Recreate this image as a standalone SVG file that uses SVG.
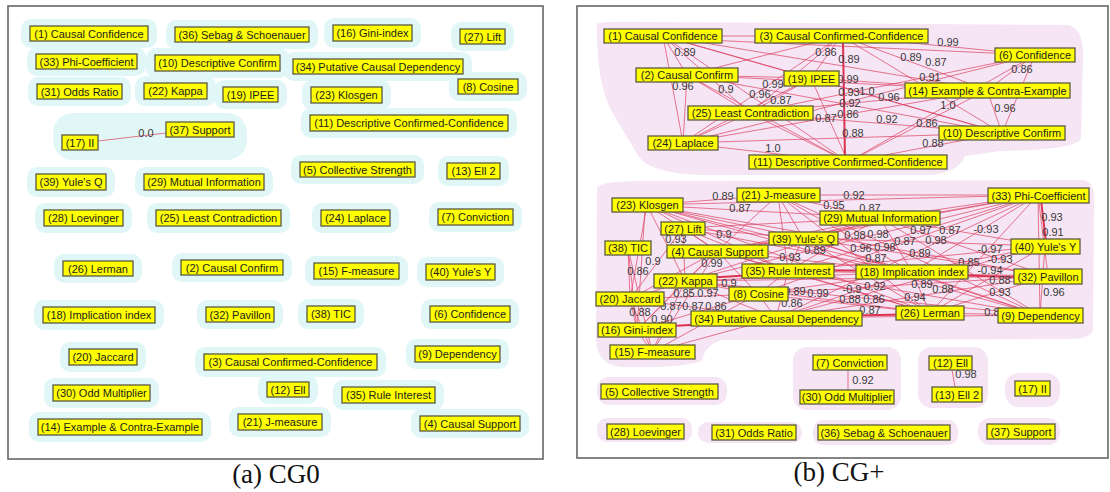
<svg xmlns="http://www.w3.org/2000/svg" width="1110" height="492" viewBox="0 0 1110 492">
<style>
.frame{fill:#fff;stroke:#666;stroke-width:1.6}
.halo{fill:#e1f6f6}
.blob{fill:#f5e5f5}
.nb{fill:#ffff00;stroke:#5a5a40;stroke-width:1.3}
.nt{font-family:"Liberation Sans",Arial,sans-serif;font-size:11px;fill:#1c1c1c;text-anchor:middle}
.e line{stroke:#dd3a5a;stroke-width:0.85;stroke-opacity:0.8}
.e line.th{stroke:#d8203f;stroke-width:2;stroke-opacity:0.9}
.lb{font-family:"Liberation Sans",Arial,sans-serif;font-size:11px;fill:#3a3a3a;text-anchor:middle}
.cap{font-family:"Liberation Serif","Times New Roman",serif;font-size:27px;fill:#111;text-anchor:middle}
</style>
<rect width="1110" height="492" fill="#fff"/>
<!-- Panel (a) -->
<rect class="frame" x="8" y="6" width="535" height="453"/>
<g id="a-halos">
<rect class="halo" x="21" y="19" width="136" height="29" rx="10"/>
<rect class="halo" x="166" y="20" width="152" height="29" rx="10"/>
<rect class="halo" x="324" y="18" width="97" height="30" rx="10"/>
<rect class="halo" x="451" y="22" width="63" height="29" rx="10"/>
<rect class="halo" x="27" y="47" width="119" height="29" rx="10"/>
<rect class="halo" x="146" y="48" width="143" height="30" rx="10"/>
<rect class="halo" x="284" y="52" width="188" height="29" rx="10"/>
<rect class="halo" x="28" y="77" width="103" height="29" rx="10"/>
<rect class="halo" x="135" y="76" width="81" height="30" rx="10"/>
<rect class="halo" x="214" y="80" width="73" height="29" rx="10"/>
<rect class="halo" x="302" y="80" width="89" height="30" rx="10"/>
<rect class="halo" x="449" y="72" width="78" height="29" rx="10"/>
<rect class="halo" x="301" y="108" width="216" height="30" rx="10"/>
<rect class="halo" x="53" y="113" width="194" height="47" rx="20"/>
<rect class="halo" x="27" y="167" width="88" height="30" rx="10"/>
<rect class="halo" x="135" y="167" width="138" height="30" rx="10"/>
<rect class="halo" x="291" y="155" width="133" height="29" rx="10"/>
<rect class="halo" x="438" y="156" width="71" height="30" rx="10"/>
<rect class="halo" x="35" y="203" width="97" height="30" rx="10"/>
<rect class="halo" x="147" y="203" width="143" height="30" rx="10"/>
<rect class="halo" x="312" y="203" width="87" height="30" rx="10"/>
<rect class="halo" x="429" y="202" width="93" height="30" rx="10"/>
<rect class="halo" x="54" y="254" width="88" height="29" rx="10"/>
<rect class="halo" x="172" y="253" width="120" height="29" rx="10"/>
<rect class="halo" x="305" y="256" width="103" height="30" rx="10"/>
<rect class="halo" x="417" y="257" width="87" height="30" rx="10"/>
<rect class="halo" x="34" y="300" width="130" height="30" rx="10"/>
<rect class="halo" x="197" y="300" width="86" height="29" rx="10"/>
<rect class="halo" x="298" y="299" width="66" height="30" rx="10"/>
<rect class="halo" x="421" y="299" width="98" height="30" rx="10"/>
<rect class="halo" x="60" y="342" width="86" height="30" rx="10"/>
<rect class="halo" x="195" y="347" width="191" height="30" rx="10"/>
<rect class="halo" x="406" y="339" width="103" height="30" rx="10"/>
<rect class="halo" x="44" y="378" width="115" height="30" rx="10"/>
<rect class="halo" x="258" y="375" width="60" height="29" rx="10"/>
<rect class="halo" x="333" y="380" width="111" height="30" rx="10"/>
<rect class="halo" x="29" y="412" width="182" height="30" rx="10"/>
<rect class="halo" x="229" y="407" width="102" height="30" rx="10"/>
<rect class="halo" x="411" y="409" width="118" height="29" rx="10"/>
</g>
<g id="a-connectors" class="e">
<line x1="98" y1="141" x2="166" y2="133"/>
<text class="lb" x="146" y="137">0.0</text>
</g>
<g id="a-n1"><rect class="nb" x="30" y="26" width="118" height="15"/><text class="nt" x="89" y="37.5">(1) Causal Confidence</text></g>
<g id="a-n36"><rect class="nb" x="175" y="27" width="134" height="15"/><text class="nt" x="242" y="38.5">(36) Sebag &amp; Schoenauer</text></g>
<g id="a-n16"><rect class="nb" x="333" y="25" width="79" height="16"/><text class="nt" x="372.5" y="37">(16) Gini-index</text></g>
<g id="a-n27"><rect class="nb" x="460" y="29" width="45" height="15"/><text class="nt" x="482.5" y="40.5">(27) Lift</text></g>
<g id="a-n33"><rect class="nb" x="36" y="54" width="101" height="15"/><text class="nt" x="86.5" y="65.5">(33) Phi-Coefficient</text></g>
<g id="a-n10"><rect class="nb" x="155" y="55" width="125" height="16"/><text class="nt" x="217.5" y="67">(10) Descriptive Confirm</text></g>
<g id="a-n34"><rect class="nb" x="293" y="59" width="170" height="15"/><text class="nt" x="378" y="70.5">(34) Putative Causal Dependency</text></g>
<g id="a-n31"><rect class="nb" x="37" y="84" width="85" height="15"/><text class="nt" x="79.5" y="95.5">(31) Odds Ratio</text></g>
<g id="a-n22"><rect class="nb" x="144" y="83" width="63" height="16"/><text class="nt" x="175.5" y="95">(22) Kappa</text></g>
<g id="a-n19"><rect class="nb" x="223" y="87" width="55" height="15"/><text class="nt" x="250.5" y="98.5">(19) IPEE</text></g>
<g id="a-n23"><rect class="nb" x="311" y="87" width="71" height="16"/><text class="nt" x="346.5" y="99">(23) Klosgen</text></g>
<g id="a-n8"><rect class="nb" x="458" y="79" width="60" height="15"/><text class="nt" x="488" y="90.5">(8) Cosine</text></g>
<g id="a-n11"><rect class="nb" x="310" y="115" width="198" height="16"/><text class="nt" x="409" y="127">(11) Descriptive Confirmed-Confidence</text></g>
<g id="a-n37"><rect class="nb" x="166" y="122" width="68" height="15"/><text class="nt" x="200" y="133.5">(37) Support</text></g>
<g id="a-n17"><rect class="nb" x="62" y="135" width="36" height="15"/><text class="nt" x="80" y="146.5">(17) II</text></g>
<g id="a-n39"><rect class="nb" x="36" y="174" width="70" height="16"/><text class="nt" x="71" y="186">(39) Yule's Q</text></g>
<g id="a-n29"><rect class="nb" x="144" y="174" width="120" height="16"/><text class="nt" x="204" y="186">(29) Mutual Information</text></g>
<g id="a-n5"><rect class="nb" x="300" y="162" width="115" height="15"/><text class="nt" x="357.5" y="173.5">(5) Collective Strength</text></g>
<g id="a-n13"><rect class="nb" x="447" y="163" width="53" height="16"/><text class="nt" x="473.5" y="175">(13) Ell 2</text></g>
<g id="a-n28"><rect class="nb" x="44" y="210" width="79" height="16"/><text class="nt" x="83.5" y="222">(28) Loevinger</text></g>
<g id="a-n25"><rect class="nb" x="156" y="210" width="125" height="16"/><text class="nt" x="218.5" y="222">(25) Least Contradiction</text></g>
<g id="a-n24"><rect class="nb" x="321" y="210" width="69" height="16"/><text class="nt" x="355.5" y="222">(24) Laplace</text></g>
<g id="a-n7"><rect class="nb" x="438" y="209" width="75" height="16"/><text class="nt" x="475.5" y="221">(7) Conviction</text></g>
<g id="a-n26"><rect class="nb" x="63" y="261" width="70" height="15"/><text class="nt" x="98" y="272.5">(26) Lerman</text></g>
<g id="a-n2"><rect class="nb" x="181" y="260" width="102" height="15"/><text class="nt" x="232" y="271.5">(2) Causal Confirm</text></g>
<g id="a-n15"><rect class="nb" x="314" y="263" width="85" height="16"/><text class="nt" x="356.5" y="275">(15) F-measure</text></g>
<g id="a-n40"><rect class="nb" x="426" y="264" width="69" height="16"/><text class="nt" x="460.5" y="276">(40) Yule's Y</text></g>
<g id="a-n18"><rect class="nb" x="43" y="307" width="112" height="16"/><text class="nt" x="99" y="319">(18) Implication index</text></g>
<g id="a-n32"><rect class="nb" x="206" y="307" width="68" height="15"/><text class="nt" x="240" y="318.5">(32) Pavillon</text></g>
<g id="a-n38"><rect class="nb" x="307" y="306" width="48" height="16"/><text class="nt" x="331" y="318">(38) TIC</text></g>
<g id="a-n6"><rect class="nb" x="430" y="306" width="80" height="16"/><text class="nt" x="470" y="318">(6) Confidence</text></g>
<g id="a-n20"><rect class="nb" x="69" y="349" width="68" height="16"/><text class="nt" x="103" y="361">(20) Jaccard</text></g>
<g id="a-n3"><rect class="nb" x="204" y="354" width="173" height="16"/><text class="nt" x="290.5" y="366">(3) Causal Confirmed-Confidence</text></g>
<g id="a-n9"><rect class="nb" x="415" y="346" width="85" height="16"/><text class="nt" x="457.5" y="358">(9) Dependency</text></g>
<g id="a-n30"><rect class="nb" x="53" y="385" width="97" height="16"/><text class="nt" x="101.5" y="397">(30) Odd Multiplier</text></g>
<g id="a-n12"><rect class="nb" x="267" y="382" width="42" height="15"/><text class="nt" x="288" y="393.5">(12) Ell</text></g>
<g id="a-n35"><rect class="nb" x="342" y="387" width="93" height="16"/><text class="nt" x="388.5" y="399">(35) Rule Interest</text></g>
<g id="a-n14"><rect class="nb" x="38" y="419" width="164" height="16"/><text class="nt" x="120" y="431">(14) Example &amp; Contra-Example</text></g>
<g id="a-n21"><rect class="nb" x="238" y="414" width="84" height="16"/><text class="nt" x="280" y="426">(21) J-measure</text></g>
<g id="a-n4"><rect class="nb" x="420" y="416" width="100" height="15"/><text class="nt" x="470" y="427.5">(4) Causal Support</text></g>
<text class="cap" x="276" y="483">(a) CG0</text>

<!-- Panel (b) -->
<rect class="frame" x="577" y="6" width="531" height="452"/>
<g id="b-blobs">
<path class="blob" d="M597,24 Q600,21 640,22 L1068,25 Q1083,28 1083,55 L1081,138 Q1078,150 1000,151 L965,156 Q958,173 930,175 L705,175 Q645,174 636,152 L612,112 Q596,82 597,24 Z"/>
<path class="blob" d="M597,188 Q600,181 640,181 L1084,180 Q1094,182 1094,200 L1093,330 Q1091,339 1070,339 L722,340 Q706,344 702,360 Q692,368 622,367 Q598,365 596,342 Z"/>
<rect class="blob" x="793" y="347" width="108" height="63" rx="14"/>
<rect class="blob" x="918" y="347" width="70" height="61" rx="14"/>
<rect class="blob" x="1005" y="373" width="55" height="34" rx="14"/>
<rect class="blob" x="597" y="377" width="130" height="28" rx="12"/>
<rect class="blob" x="597" y="418" width="95" height="24" rx="10"/>
<rect class="blob" x="698" y="422" width="104" height="21" rx="10"/>
<rect class="blob" x="813" y="420" width="145" height="25" rx="10"/>
<rect class="blob" x="978" y="418" width="82" height="27" rx="12"/>
</g>
<g id="b-connectors" class="e">
<!-- top cluster -->
<line x1="663" y1="36" x2="841" y2="36"/>
<line x1="663" y1="38" x2="1035" y2="55"/>
<line x1="663" y1="36" x2="811" y2="78"/>
<line x1="663" y1="36" x2="987" y2="90"/>
<line x1="663" y1="36" x2="687" y2="75"/>
<line x1="663" y1="36" x2="683" y2="143"/>
<line x1="663" y1="36" x2="750" y2="113"/>
<line x1="663" y1="36" x2="848" y2="162"/>
<line x1="663" y1="36" x2="1002" y2="133"/>
<line x1="841" y1="36" x2="1035" y2="55"/>
<line x1="841" y1="36" x2="987" y2="90"/>
<line x1="841" y1="36" x2="1002" y2="133"/>
<line x1="841" y1="36" x2="811" y2="78"/>
<line x1="841" y1="36" x2="750" y2="113"/>
<line class="th" x1="843" y1="42" x2="845" y2="158"/>
<line x1="841" y1="36" x2="683" y2="143"/>
<line x1="841" y1="36" x2="687" y2="75"/>
<line x1="687" y1="75" x2="811" y2="78"/>
<line x1="687" y1="75" x2="750" y2="113"/>
<line x1="687" y1="75" x2="987" y2="90"/>
<line x1="687" y1="75" x2="848" y2="162"/>
<line x1="687" y1="75" x2="683" y2="143"/>
<line x1="687" y1="75" x2="1002" y2="133"/>
<line x1="811" y1="78" x2="750" y2="113"/>
<line x1="811" y1="78" x2="848" y2="162"/>
<line x1="811" y1="78" x2="987" y2="90"/>
<line x1="811" y1="78" x2="683" y2="143"/>
<line x1="811" y1="78" x2="1002" y2="133"/>
<line x1="750" y1="113" x2="987" y2="90"/>
<line x1="750" y1="113" x2="1035" y2="55"/>
<line x1="750" y1="113" x2="1002" y2="133"/>
<line x1="750" y1="113" x2="683" y2="143"/>
<line x1="750" y1="113" x2="848" y2="162"/>
<line x1="683" y1="143" x2="848" y2="162"/>
<line x1="683" y1="143" x2="987" y2="90"/>
<line x1="683" y1="143" x2="1035" y2="55"/>
<line x1="683" y1="143" x2="1002" y2="133"/>
<line x1="848" y1="162" x2="1035" y2="55"/>
<line x1="848" y1="162" x2="987" y2="90"/>
<line x1="848" y1="162" x2="1002" y2="133"/>
<line x1="1035" y1="55" x2="987" y2="90"/>
<line x1="1035" y1="55" x2="1002" y2="133"/>
<line x1="987" y1="90" x2="1002" y2="133"/>
<!-- lower cluster -->
<line x1="647" y1="205" x2="778" y2="195"/>
<line x1="647" y1="205" x2="880" y2="218"/>
<line x1="647" y1="205" x2="1038" y2="195"/>
<line x1="647" y1="205" x2="803" y2="238"/>
<line x1="647" y1="205" x2="912" y2="272"/>
<line x1="647" y1="205" x2="788" y2="271"/>
<line x1="647" y1="205" x2="717" y2="251"/>
<line x1="645" y1="210" x2="637" y2="330"/>
<line x1="647" y1="205" x2="685" y2="281"/>
<line x1="647" y1="205" x2="930" y2="313"/>
<line x1="647" y1="205" x2="1048" y2="276"/>
<line x1="647" y1="205" x2="1040" y2="315"/>
<line x1="647" y1="205" x2="630" y2="299"/>
<line x1="778" y1="195" x2="880" y2="218"/>
<line x1="778" y1="195" x2="1038" y2="195"/>
<line x1="778" y1="195" x2="912" y2="272"/>
<line x1="778" y1="195" x2="930" y2="313"/>
<line x1="778" y1="195" x2="717" y2="251"/>
<line x1="778" y1="195" x2="803" y2="238"/>
<line x1="778" y1="195" x2="1040" y2="315"/>
<line x1="778" y1="195" x2="788" y2="271"/>
<line x1="1038" y1="195" x2="880" y2="218"/>
<line class="th" x1="1041" y1="200" x2="1046" y2="242"/>
<line x1="1038" y1="195" x2="912" y2="272"/>
<line x1="1038" y1="195" x2="803" y2="238"/>
<line x1="1038" y1="195" x2="788" y2="271"/>
<line x1="1038" y1="195" x2="930" y2="313"/>
<line x1="1038" y1="195" x2="1048" y2="276"/>
<line x1="1038" y1="195" x2="1040" y2="315"/>
<line x1="1038" y1="195" x2="717" y2="251"/>
<line x1="1038" y1="195" x2="776" y2="318"/>
<line x1="1038" y1="195" x2="758" y2="294"/>
<line x1="1038" y1="195" x2="685" y2="281"/>
<line x1="1045" y1="246" x2="1040" y2="315"/>
<line x1="1045" y1="246" x2="912" y2="272"/>
<line x1="1045" y1="246" x2="930" y2="313"/>
<line x1="1045" y1="246" x2="788" y2="271"/>
<line x1="1045" y1="246" x2="803" y2="238"/>
<line x1="1045" y1="246" x2="776" y2="318"/>
<line x1="1045" y1="246" x2="880" y2="218"/>
<line class="th" x1="912" y1="274" x2="1048" y2="278"/>
<line x1="1048" y1="276" x2="930" y2="313"/>
<line x1="1048" y1="276" x2="776" y2="318"/>
<line x1="1048" y1="276" x2="788" y2="271"/>
<line x1="1048" y1="276" x2="803" y2="238"/>
<line x1="1048" y1="276" x2="685" y2="281"/>
<line x1="1048" y1="276" x2="880" y2="218"/>
<line x1="1048" y1="276" x2="758" y2="294"/>
<line x1="1040" y1="315" x2="930" y2="313"/>
<line x1="1040" y1="315" x2="912" y2="272"/>
<line x1="1040" y1="315" x2="776" y2="318"/>
<line x1="1040" y1="315" x2="880" y2="218"/>
<line x1="1040" y1="315" x2="803" y2="238"/>
<line x1="1040" y1="315" x2="788" y2="271"/>
<line x1="1040" y1="315" x2="685" y2="281"/>
<line class="th" x1="788" y1="270" x2="912" y2="271"/>
<line x1="912" y1="272" x2="880" y2="218"/>
<line x1="912" y1="272" x2="803" y2="238"/>
<line x1="912" y1="272" x2="930" y2="313"/>
<line x1="912" y1="272" x2="776" y2="318"/>
<line x1="912" y1="272" x2="758" y2="294"/>
<line x1="912" y1="272" x2="717" y2="251"/>
<line x1="912" y1="272" x2="685" y2="281"/>
<line x1="912" y1="272" x2="683" y2="228"/>
<line class="th" x1="776" y1="317" x2="930" y2="314"/>
<line x1="930" y1="313" x2="788" y2="271"/>
<line x1="930" y1="313" x2="758" y2="294"/>
<line x1="930" y1="313" x2="803" y2="238"/>
<line x1="930" y1="313" x2="685" y2="281"/>
<line x1="930" y1="313" x2="717" y2="251"/>
<line class="th" x1="685" y1="279" x2="788" y2="273"/>
<line x1="788" y1="271" x2="803" y2="238"/>
<line x1="788" y1="271" x2="758" y2="294"/>
<line x1="788" y1="271" x2="717" y2="251"/>
<line x1="788" y1="271" x2="776" y2="318"/>
<line x1="788" y1="271" x2="683" y2="228"/>
<line x1="880" y1="218" x2="803" y2="238"/>
<line x1="880" y1="218" x2="788" y2="271"/>
<line x1="880" y1="218" x2="717" y2="251"/>
<line x1="880" y1="218" x2="683" y2="228"/>
<line x1="880" y1="218" x2="685" y2="281"/>
<line x1="685" y1="281" x2="630" y2="299"/>
<line x1="685" y1="281" x2="637" y2="330"/>
<line x1="685" y1="281" x2="652" y2="352"/>
<line x1="685" y1="281" x2="776" y2="318"/>
<line x1="685" y1="281" x2="758" y2="294"/>
<line x1="685" y1="281" x2="717" y2="251"/>
<line x1="685" y1="281" x2="683" y2="228"/>
<line x1="630" y1="299" x2="637" y2="330"/>
<line x1="630" y1="299" x2="652" y2="352"/>
<line x1="630" y1="299" x2="776" y2="318"/>
<line x1="630" y1="299" x2="758" y2="294"/>
<line x1="630" y1="299" x2="717" y2="251"/>
<line class="th" x1="637" y1="328" x2="776" y2="320"/>
<line x1="637" y1="330" x2="652" y2="352"/>
<line x1="637" y1="330" x2="758" y2="294"/>
<line x1="628" y1="248" x2="637" y2="330"/>
<line x1="628" y1="248" x2="630" y2="299"/>
<line x1="628" y1="248" x2="652" y2="352"/>
<line x1="683" y1="228" x2="717" y2="251"/>
<line x1="683" y1="228" x2="803" y2="238"/>
<line x1="683" y1="228" x2="630" y2="299"/>
<line x1="717" y1="251" x2="803" y2="238"/>
<line x1="717" y1="251" x2="637" y2="330"/>
<line x1="717" y1="251" x2="652" y2="352"/>
<line x1="717" y1="251" x2="758" y2="294"/>
<line x1="758" y1="294" x2="776" y2="318"/>
<line x1="758" y1="294" x2="652" y2="352"/>
<line x1="776" y1="318" x2="652" y2="352"/>
<!-- small groups -->
<line x1="848" y1="370" x2="848" y2="390"/>
<line x1="952" y1="370" x2="955" y2="387"/>
<!-- labels top -->
<text class="lb" x="685" y="56">0.89</text>
<text class="lb" x="683" y="90">0.96</text>
<text class="lb" x="726" y="93">0.9</text>
<text class="lb" x="773" y="88">0.99</text>
<text class="lb" x="760" y="98">0.96</text>
<text class="lb" x="781" y="104">0.87</text>
<text class="lb" x="773" y="152">1.0</text>
<text class="lb" x="826" y="56">0.86</text>
<text class="lb" x="849" y="63">0.89</text>
<text class="lb" x="848" y="83">0.99</text>
<text class="lb" x="849" y="96">0.93</text>
<text class="lb" x="867" y="95">1.0</text>
<text class="lb" x="850" y="107">0.92</text>
<text class="lb" x="889" y="101">0.96</text>
<text class="lb" x="848" y="118">0.86</text>
<text class="lb" x="826" y="122">0.87</text>
<text class="lb" x="887" y="123">0.92</text>
<text class="lb" x="853" y="137">0.88</text>
<text class="lb" x="948" y="46">0.99</text>
<text class="lb" x="911" y="61">0.89</text>
<text class="lb" x="936" y="66">0.87</text>
<text class="lb" x="930" y="81">0.91</text>
<text class="lb" x="1022" y="73">0.86</text>
<text class="lb" x="948" y="109">1.0</text>
<text class="lb" x="1005" y="112">0.96</text>
<text class="lb" x="927" y="127">0.86</text>
<text class="lb" x="933" y="147">0.88</text>
<!-- labels lower -->
<text class="lb" x="723" y="200">0.89</text>
<text class="lb" x="740" y="212">0.87</text>
<text class="lb" x="854" y="199">0.92</text>
<text class="lb" x="834" y="209">0.95</text>
<text class="lb" x="870" y="212">0.87</text>
<text class="lb" x="724" y="238">0.9</text>
<text class="lb" x="676" y="243">0.93</text>
<text class="lb" x="653" y="265">0.9</text>
<text class="lb" x="638" y="275">0.86</text>
<text class="lb" x="712" y="267">0.99</text>
<text class="lb" x="729" y="287">0.9</text>
<text class="lb" x="708" y="297">0.97</text>
<text class="lb" x="684" y="297">0.85</text>
<text class="lb" x="671" y="310">0.87</text>
<text class="lb" x="640" y="316">0.88</text>
<text class="lb" x="693" y="310">0.87</text>
<text class="lb" x="716" y="310">0.86</text>
<text class="lb" x="662" y="323">0.90</text>
<text class="lb" x="795" y="295">0.89</text>
<text class="lb" x="818" y="297">0.99</text>
<text class="lb" x="792" y="307">0.86</text>
<text class="lb" x="815" y="254">0.89</text>
<text class="lb" x="790" y="261">0.93</text>
<text class="lb" x="855" y="239">0.98</text>
<text class="lb" x="878" y="238">0.98</text>
<text class="lb" x="861" y="252">0.96</text>
<text class="lb" x="885" y="251">0.98</text>
<text class="lb" x="876" y="262">0.87</text>
<text class="lb" x="921" y="234">0.97</text>
<text class="lb" x="950" y="234">0.87</text>
<text class="lb" x="905" y="245">0.87</text>
<text class="lb" x="936" y="244">0.98</text>
<text class="lb" x="920" y="257">0.89</text>
<text class="lb" x="986" y="233">-0.93</text>
<text class="lb" x="1052" y="221">0.93</text>
<text class="lb" x="1053" y="236">0.91</text>
<text class="lb" x="990" y="253">-0.97</text>
<text class="lb" x="1000" y="263">-0.93</text>
<text class="lb" x="969" y="266">0.85</text>
<text class="lb" x="990" y="274">-0.94</text>
<text class="lb" x="1000" y="284">0.88</text>
<text class="lb" x="1000" y="296">0.93</text>
<text class="lb" x="1054" y="296">0.96</text>
<text class="lb" x="922" y="288">0.89</text>
<text class="lb" x="943" y="293">0.88</text>
<text class="lb" x="915" y="301">0.94</text>
<text class="lb" x="875" y="290">0.92</text>
<text class="lb" x="852" y="293">-0.9</text>
<text class="lb" x="850" y="303">0.88</text>
<text class="lb" x="874" y="303">0.86</text>
<text class="lb" x="870" y="314">0.87</text>
<text class="lb" x="992" y="316">0.8</text>
<text class="lb" x="863" y="384">0.92</text>
<text class="lb" x="966" y="378">0.98</text>
</g>
<g id="b-n1"><rect class="nb" x="604" y="29" width="118" height="14"/><text class="nt" x="663" y="40">(1) Causal Confidence</text></g>
<g id="b-n3"><rect class="nb" x="755" y="29" width="173" height="14"/><text class="nt" x="841.5" y="40">(3) Causal Confirmed-Confidence</text></g>
<g id="b-n2"><rect class="nb" x="636" y="68" width="102" height="14"/><text class="nt" x="687" y="79">(2) Causal Confirm</text></g>
<g id="b-n19"><rect class="nb" x="784" y="71" width="55" height="15"/><text class="nt" x="811.5" y="82.5">(19) IPEE</text></g>
<g id="b-n25"><rect class="nb" x="688" y="106" width="125" height="14"/><text class="nt" x="750.5" y="117">(25) Least Contradiction</text></g>
<g id="b-n24"><rect class="nb" x="648" y="136" width="70" height="14"/><text class="nt" x="683" y="147">(24) Laplace</text></g>
<g id="b-n11"><rect class="nb" x="749" y="155" width="198" height="14"/><text class="nt" x="848" y="166">(11) Descriptive Confirmed-Confidence</text></g>
<g id="b-n6"><rect class="nb" x="995" y="48" width="80" height="14"/><text class="nt" x="1035" y="59">(6) Confidence</text></g>
<g id="b-n14"><rect class="nb" x="905" y="83" width="165" height="15"/><text class="nt" x="987.5" y="94.5">(14) Example &amp; Contra-Example</text></g>
<g id="b-n10"><rect class="nb" x="939" y="126" width="126" height="14"/><text class="nt" x="1002" y="137">(10) Descriptive Confirm</text></g>
<g id="b-n23"><rect class="nb" x="612" y="198" width="71" height="14"/><text class="nt" x="647.5" y="209">(23) Klosgen</text></g>
<g id="b-n21"><rect class="nb" x="737" y="188" width="83" height="14"/><text class="nt" x="778.5" y="199">(21) J-measure</text></g>
<g id="b-n29"><rect class="nb" x="820" y="211" width="120" height="14"/><text class="nt" x="880" y="222">(29) Mutual Information</text></g>
<g id="b-n33"><rect class="nb" x="988" y="188" width="101" height="15"/><text class="nt" x="1038.5" y="199.5">(33) Phi-Coefficient</text></g>
<g id="b-n27"><rect class="nb" x="661" y="222" width="44" height="13"/><text class="nt" x="683" y="232.5">(27) Lift</text></g>
<g id="b-n38"><rect class="nb" x="605" y="241" width="46" height="14"/><text class="nt" x="628" y="252">(38) TIC</text></g>
<g id="b-n4"><rect class="nb" x="667" y="245" width="101" height="13"/><text class="nt" x="717.5" y="255.5">(4) Causal Support</text></g>
<g id="b-n39"><rect class="nb" x="769" y="232" width="69" height="13"/><text class="nt" x="803.5" y="242.5">(39) Yule's Q</text></g>
<g id="b-n35"><rect class="nb" x="742" y="264" width="92" height="14"/><text class="nt" x="788" y="275">(35) Rule Interest</text></g>
<g id="b-n22"><rect class="nb" x="654" y="274" width="63" height="14"/><text class="nt" x="685.5" y="285">(22) Kappa</text></g>
<g id="b-n18"><rect class="nb" x="856" y="265" width="112" height="14"/><text class="nt" x="912" y="276">(18) Implication index</text></g>
<g id="b-n40"><rect class="nb" x="1011" y="239" width="69" height="15"/><text class="nt" x="1045.5" y="250.5">(40) Yule's Y</text></g>
<g id="b-n32"><rect class="nb" x="1014" y="269" width="68" height="15"/><text class="nt" x="1048" y="280.5">(32) Pavillon</text></g>
<g id="b-n20"><rect class="nb" x="596" y="292" width="68" height="14"/><text class="nt" x="630" y="303">(20) Jaccard</text></g>
<g id="b-n8"><rect class="nb" x="729" y="287" width="59" height="14"/><text class="nt" x="758.5" y="298">(8) Cosine</text></g>
<g id="b-n34"><rect class="nb" x="691" y="311" width="171" height="15"/><text class="nt" x="776.5" y="322.5">(34) Putative Causal Dependency</text></g>
<g id="b-n26"><rect class="nb" x="896" y="306" width="68" height="14"/><text class="nt" x="930" y="317">(26) Lerman</text></g>
<g id="b-n9"><rect class="nb" x="998" y="308" width="85" height="15"/><text class="nt" x="1040.5" y="319.5">(9) Dependency</text></g>
<g id="b-n16"><rect class="nb" x="598" y="323" width="78" height="14"/><text class="nt" x="637" y="334">(16) Gini-index</text></g>
<g id="b-n15"><rect class="nb" x="610" y="345" width="85" height="14"/><text class="nt" x="652.5" y="356">(15) F-measure</text></g>
<g id="b-n7"><rect class="nb" x="813" y="355" width="74" height="15"/><text class="nt" x="850" y="366.5">(7) Conviction</text></g>
<g id="b-n30"><rect class="nb" x="800" y="390" width="94" height="14"/><text class="nt" x="847" y="401">(30) Odd Multiplier</text></g>
<g id="b-n12"><rect class="nb" x="929" y="356" width="43" height="14"/><text class="nt" x="950.5" y="367">(12) Ell</text></g>
<g id="b-n13"><rect class="nb" x="932" y="387" width="50" height="15"/><text class="nt" x="957" y="398.5">(13) Ell 2</text></g>
<g id="b-n17"><rect class="nb" x="1015" y="381" width="35" height="15"/><text class="nt" x="1032.5" y="392.5">(17) II</text></g>
<g id="b-n5"><rect class="nb" x="601" y="384" width="117" height="15"/><text class="nt" x="659.5" y="395.5">(5) Collective Strength</text></g>
<g id="b-n28"><rect class="nb" x="607" y="424" width="77" height="15"/><text class="nt" x="645.5" y="435.5">(28) Loevinger</text></g>
<g id="b-n31"><rect class="nb" x="712" y="425" width="84" height="15"/><text class="nt" x="754" y="436.5">(31) Odds Ratio</text></g>
<g id="b-n36"><rect class="nb" x="818" y="425" width="132" height="15"/><text class="nt" x="884" y="436.5">(36) Sebag &amp; Schoenauer</text></g>
<g id="b-n37"><rect class="nb" x="987" y="424" width="68" height="15"/><text class="nt" x="1021" y="435.5">(37) Support</text></g>
<text class="cap" x="839" y="481">(b) CG+</text>
</svg>
